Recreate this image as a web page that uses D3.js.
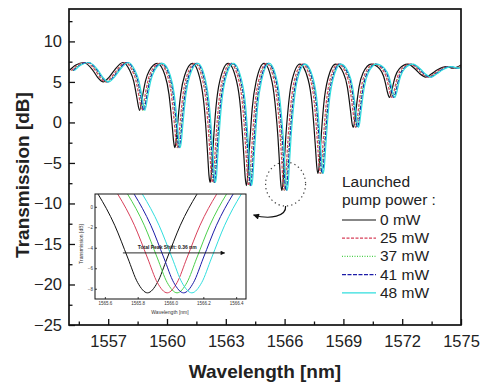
<!DOCTYPE html>
<html>
<head>
<meta charset="utf-8">
<script src="https://cdn.jsdelivr.net/npm/d3@7"></script>
<style>
  body { margin: 0; background: #fff; }
  svg { display: block; font-family: "Liberation Sans", Arial, sans-serif; }
</style>
</head>
<body>
<svg id="chart" width="482" height="385"></svg>
<script>
// --- data ---
const pumpPowers = ['0 mW', '25 mW', '37 mW', '41 mW', '48 mW'];
// red shift of each spectrum relative to 0 mW (nm)
const peakShift = [0, 0.12, 0.18, 0.22, 0.27];
const seriesColors = ['#111', '#d8405a', '#4cd04c', '#1c1ca8', '#30dede'];
const seriesDash = [null, '3,1.5', '1,1.5', '4,1.5', null];

// 0 mW transmission spectrum [wavelength nm, dB]
const spectrum0mW = [
  [1555.0, 6.4], [1555.35, 7.1], [1555.75, 7.4], [1556.2, 6.5], [1556.45, 5.6],
  [1556.75, 5.0], [1557.05, 5.6], [1557.3, 6.4], [1557.75, 7.4],
  [1558.1, 6.4], [1558.3, 5.1], [1558.4, 3.9], [1558.48, 2.8], [1558.6, 1.5],
  [1558.72, 2.8], [1558.8, 3.9], [1558.9, 5.1], [1559.1, 6.4], [1559.5, 7.3],
  [1559.9, 5.8], [1560.1, 3.5], [1560.2, 1.3], [1560.28, -0.8], [1560.34, -2.4],
  [1560.4, -3.1], [1560.46, -2.4], [1560.52, -0.8], [1560.6, 1.3], [1560.7, 3.5],
  [1560.9, 5.8], [1561.3, 7.3],
  [1561.7, 5.2], [1561.9, 1.9], [1562.0, -1.2], [1562.08, -4.2], [1562.14, -6.5],
  [1562.2, -7.4], [1562.26, -6.5], [1562.32, -4.2], [1562.4, -1.2], [1562.5, 1.9],
  [1562.7, 5.2], [1563.12, 7.3],
  [1563.55, 5.1], [1563.75, 1.8], [1563.85, -1.5], [1563.93, -4.5], [1563.99, -6.8],
  [1564.05, -7.8], [1564.11, -6.8], [1564.17, -4.5], [1564.25, -1.5], [1564.35, 1.8],
  [1564.55, 5.1], [1564.95, 7.3],
  [1565.36, 5.0], [1565.56, 1.2], [1565.66, -1.8], [1565.74, -5.0], [1565.8, -7.4],
  [1565.86, -8.4], [1565.92, -7.4], [1565.98, -5.0], [1566.06, -1.8], [1566.16, 1.2],
  [1566.36, 5.0], [1566.78, 7.2],
  [1567.2, 5.3], [1567.4, 2.3], [1567.5, -0.6], [1567.58, -3.3], [1567.64, -5.4],
  [1567.7, -6.3], [1567.76, -5.4], [1567.82, -3.3], [1567.9, -0.6], [1568.0, 2.3],
  [1568.2, 5.3], [1568.6, 7.2],
  [1569.0, 6.1], [1569.2, 4.4], [1569.3, 2.7], [1569.38, 1.1], [1569.44, -0.1],
  [1569.5, -0.6], [1569.56, -0.1], [1569.62, 1.1], [1569.7, 2.7], [1569.8, 4.4],
  [1570.0, 6.1], [1570.42, 7.2],
  [1570.85, 6.6], [1571.05, 5.7], [1571.15, 4.8], [1571.23, 3.9], [1571.35, 3.1],
  [1571.47, 3.9], [1571.55, 4.8], [1571.65, 5.7], [1571.85, 6.6], [1572.28, 7.2],
  [1572.7, 6.5], [1572.9, 6.0], [1573.2, 5.6], [1573.5, 6.0], [1573.8, 6.5],
  [1574.25, 6.9], [1574.6, 6.7], [1575.0, 7.1]
];

const wavelengthTicks = [1557, 1560, 1563, 1566, 1569, 1572, 1575];
const wavelengthMinor = [1555.5, 1558.5, 1561.5, 1564.5, 1567.5, 1570.5, 1573.5];
const transmissionTicks = [-25, -20, -15, -10, -5, 0, 5, 10];
const transmissionMinor = [-22.5, -17.5, -12.5, -7.5, -2.5, 2.5, 7.5, 12.5];

const insetTicksX = [1565.6, 1565.8, 1566.0, 1566.2, 1566.4];
const insetTicksY = [0, -2, -4, -6, -8];
const shiftLabel = 'Total Peak Shift: 0.36 nm';

// --- drawing ---
const svg = d3.select('#chart');

const x = d3.scaleLinear().domain([1555, 1575]).range([69, 461]);
const y = d3.scaleLinear().domain([-25, 14]).range([325, 9]);

const clipMain = svg.append('clipPath').attr('id', 'clip-main');
clipMain.append('rect').attr('x', 69).attr('y', 9).attr('width', 392).attr('height', 316);

const line = d3.line()
  .x((d) => x(d[0]))
  .y((d) => y(d[1]))
  .curve(d3.curveMonotoneX);

const gCurves = svg.append('g').attr('clip-path', 'url(#clip-main)');
pumpPowers.forEach((p, i) => {
  const pts = spectrum0mW.map((d) => [d[0] + peakShift[i], d[1]]);
  gCurves.append('path')
    .datum(pts)
    .attr('d', line)
    .attr('fill', 'none')
    .attr('stroke', seriesColors[i])
    .attr('stroke-width', 1.2)
    .attr('stroke-dasharray', seriesDash[i]);
});

// axes (ticks point inward)
const xAxis = svg.append('g')
  .attr('transform', 'translate(0,325)')
  .call(d3.axisBottom(x).tickValues(wavelengthTicks).tickSize(-6).tickPadding(10).tickFormat(d3.format('d')));
svg.append('g')
  .attr('transform', 'translate(0,325)')
  .call(d3.axisBottom(x).tickValues(wavelengthMinor).tickSize(-3.5).tickFormat(''));

const yAxis = svg.append('g')
  .attr('transform', 'translate(69,0)')
  .call(d3.axisLeft(y).tickValues(transmissionTicks).tickSize(-6).tickPadding(7));
svg.append('g')
  .attr('transform', 'translate(69,0)')
  .call(d3.axisLeft(y).tickValues(transmissionMinor).tickSize(-3.5).tickFormat(''));

svg.selectAll('.domain').remove();
svg.selectAll('.tick line').attr('stroke', '#111').attr('stroke-width', 1.3);
xAxis.selectAll('text').attr('font-size', 16.5).attr('fill', '#222').attr('font-family', 'Liberation Sans, Arial, sans-serif');
yAxis.selectAll('text').attr('font-size', 16.5).attr('fill', '#222').attr('font-family', 'Liberation Sans, Arial, sans-serif');

svg.append('rect')
  .attr('x', 69).attr('y', 9).attr('width', 392).attr('height', 316)
  .attr('fill', 'none').attr('stroke', '#111').attr('stroke-width', 1.7);

svg.append('text')
  .attr('x', 265).attr('y', 378)
  .attr('text-anchor', 'middle')
  .attr('font-size', 19).attr('font-weight', 'bold').attr('fill', '#222')
  .text('Wavelength [nm]');

svg.append('text')
  .attr('transform', 'translate(29,175) rotate(-90)')
  .attr('text-anchor', 'middle')
  .attr('font-size', 19).attr('font-weight', 'bold').attr('fill', '#222')
  .text('Transmission [dB]');

// dotted circle + curved arrow pointing to the inset
svg.append('ellipse')
  .attr('cx', x(1566.05)).attr('cy', y(-7.6))
  .attr('rx', 20).attr('ry', 22)
  .attr('fill', 'none').attr('stroke', '#444')
  .attr('stroke-width', 1.2).attr('stroke-dasharray', '1.3,3');

const defs = svg.append('defs');
defs.append('marker')
  .attr('id', 'arrow').attr('viewBox', '0 0 10 10')
  .attr('refX', 9).attr('refY', 5)
  .attr('markerWidth', 7).attr('markerHeight', 5)
  .attr('orient', 'auto-start-reverse')
  .append('path').attr('d', 'M0,0 L10,5 L0,10 Z').attr('fill', '#111');

const ax0 = x(1566.05), ay0 = y(-7.6) + 22;
svg.append('path')
  .attr('d', `M${ax0},${ay0} C${ax0 + 1},${ay0 + 10} ${ax0 - 15},${ay0 + 14} ${ax0 - 32},${ay0 + 9}`)
  .attr('fill', 'none').attr('stroke', '#111').attr('stroke-width', 1.2)
  .attr('marker-end', 'url(#arrow)');

// legend
const lg = svg.append('g').attr('font-size', 15.5).attr('fill', '#222');
lg.append('text').attr('x', 342).attr('y', 187).text('Launched');
lg.append('text').attr('x', 342).attr('y', 205).text('pump power :');
pumpPowers.forEach((p, i) => {
  const ly = 220 + i * 18.2;
  lg.append('line')
    .attr('x1', 342).attr('x2', 376).attr('y1', ly).attr('y2', ly)
    .attr('stroke', seriesColors[i]).attr('stroke-width', 1.2)
    .attr('stroke-dasharray', seriesDash[i]);
  lg.append('text').attr('x', 380).attr('y', ly + 5).text(p);
});

// inset: zoom on the dip near 1566 nm
const ix = d3.scaleLinear().domain([1565.54, 1566.46]).range([95, 246]);
const iy = d3.scaleLinear().domain([-9, 1.25]).range([299, 194]);

svg.append('rect')
  .attr('x', 95).attr('y', 194).attr('width', 151).attr('height', 105)
  .attr('fill', '#fff');

const clipInset = svg.append('clipPath').attr('id', 'clip-inset');
clipInset.append('rect').attr('x', 95).attr('y', 194).attr('width', 151).attr('height', 105);

const iline = d3.line()
  .x((d) => ix(d[0]))
  .y((d) => iy(d[1]))
  .curve(d3.curveMonotoneX);

const gInset = svg.append('g').attr('clip-path', 'url(#clip-inset)');
pumpPowers.forEach((p, i) => {
  const pts = spectrum0mW.map((d) => [d[0] + peakShift[i], d[1]]);
  gInset.append('path')
    .datum(pts)
    .attr('d', iline)
    .attr('fill', 'none')
    .attr('stroke', seriesColors[i])
    .attr('stroke-width', 1);
});

const ixAxis = svg.append('g')
  .attr('transform', 'translate(0,299)')
  .call(d3.axisBottom(ix).tickValues(insetTicksX).tickSize(-2).tickPadding(3).tickFormat(d3.format('.1f')));
const iyAxis = svg.append('g')
  .attr('transform', 'translate(95,0)')
  .call(d3.axisLeft(iy).tickValues(insetTicksY).tickSize(-2).tickPadding(2));
[ixAxis, iyAxis].forEach((g) => {
  g.select('.domain').remove();
  g.selectAll('.tick line').attr('stroke', '#111').attr('stroke-width', 0.8);
  g.selectAll('text').attr('font-size', 4.5).attr('fill', '#333').attr('font-family', 'Liberation Sans, Arial, sans-serif');
});

svg.append('rect')
  .attr('x', 95).attr('y', 194).attr('width', 151).attr('height', 105)
  .attr('fill', 'none').attr('stroke', '#111').attr('stroke-width', 1);

svg.append('text')
  .attr('x', 170).attr('y', 314)
  .attr('text-anchor', 'middle').attr('font-size', 5).attr('fill', '#333')
  .text('Wavelength [nm]');
svg.append('text')
  .attr('transform', 'translate(83,244) rotate(-90)')
  .attr('text-anchor', 'middle').attr('font-size', 5).attr('fill', '#333')
  .text('Transmission [dB]');

// total peak shift arrow
svg.append('line')
  .attr('x1', ix(1565.71)).attr('x2', ix(1566.33))
  .attr('y1', iy(-4.5)).attr('y2', iy(-4.5))
  .attr('stroke', '#111').attr('stroke-width', 0.9)
  .attr('marker-end', 'url(#arrow)');
svg.append('text')
  .attr('x', ix(1565.98)).attr('y', iy(-4.5) - 4)
  .attr('text-anchor', 'middle').attr('font-size', 5).attr('font-weight', 'bold').attr('fill', '#222')
  .text(shiftLabel);
</script>
</body>
</html>
